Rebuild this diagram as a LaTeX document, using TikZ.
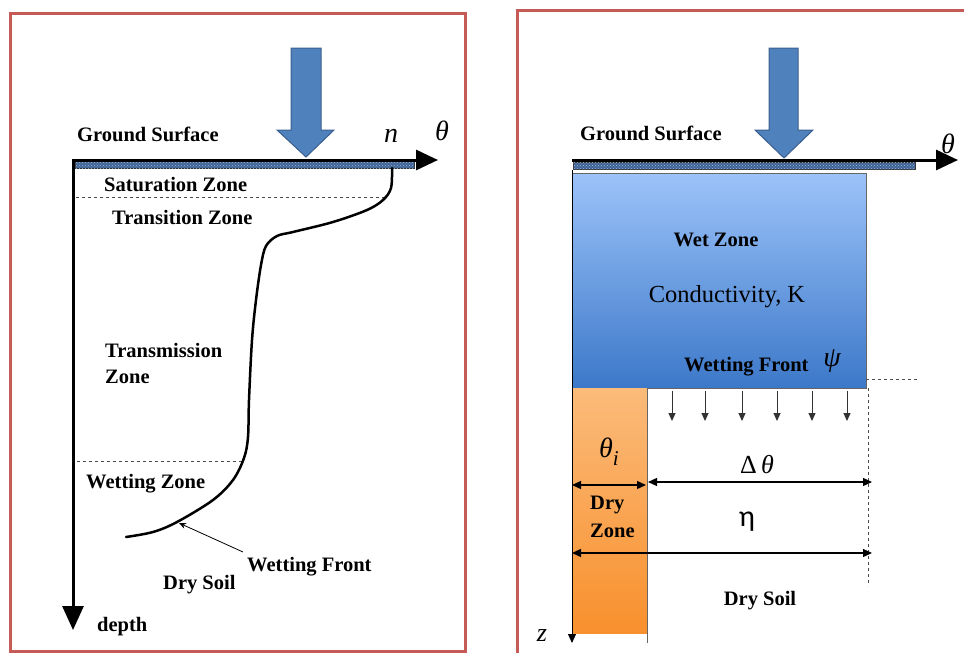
\documentclass[tikz,border=0pt]{standalone}
\usepackage{fontspec}
\setmainfont{Liberation Serif}
\newfontfamily\etafont{Carlito}
\usetikzlibrary{arrows.meta,patterns}
\definecolor{frame}{HTML}{C55A57}
\definecolor{arrfill}{HTML}{4F81BD}
\definecolor{arrdraw}{HTML}{3A5F8E}
\definecolor{strip}{HTML}{3F6496}
\definecolor{stripdot}{HTML}{9DB8DC}
\definecolor{wettop}{HTML}{9CC3F9}
\definecolor{wetbot}{HTML}{3C78C9}
\definecolor{drytop}{HTML}{FBBB7A}
\definecolor{drybot}{HTML}{F8902D}
\tikzset{
  lbl/.style={font=\fontsize{20.5}{23}\selectfont\bfseries, inner sep=0pt},
  mth/.style={font=\fontsize{28}{30}\selectfont\itshape, inner sep=0pt},
  framebox/.style={draw=frame, line width=3pt},
  bigarrow/.style={fill=arrfill, draw=arrdraw, line width=1pt},
  axis/.style={line width=3pt, -{Triangle[length=22pt,width=20pt]}},
  hatchstrip/.style={fill=strip, draw=black!80, line width=0.6pt, postaction={pattern=crosshatch dots, pattern color=stripdot}},
  dimarrow/.style={line width=1.3pt, {Triangle[length=9pt,width=8pt]}-{Triangle[length=9pt,width=8pt]}},
  droparrow/.style={line width=1pt, draw=black!80, -{Triangle[length=8pt,width=7pt]}},
  guide/.style={dashed, line width=0.8pt, draw=black!70}
}
\begin{document}
\begin{tikzpicture}[x=1pt,y={(0pt,-1pt)}]
\useasboundingbox (0,0) rectangle (964,653);
% ---------- left panel ----------
\draw[framebox] (10,13) rectangle (465,651);
\draw[bigarrow] (291,48) -- (321,48) -- (321,130) -- (334,130) -- (306,157) -- (277,130) -- (291,130) -- cycle;
\coordinate (LO) at (73,160);
\coordinate (LX) at (438,160);
\coordinate (LD) at (73,630);
\fill[hatchstrip] (75,161) rectangle (414,168);
\draw[axis] (LO) -- (LX);
\draw[line width=3pt, -{Triangle[length=24pt,width=21pt]}] (73,158.5) -- (LD);
\node[lbl, anchor=west] (gs1) at (77,134) {Ground Surface};
\node[mth] (n1) at (391,136) {n};
\node[mth] (th1) at (442,131) {θ};
\node[lbl, anchor=west] (sat) at (104,185) {Saturation Zone};
\node[lbl, anchor=west] (tra) at (112,217) {Transition Zone};
\node[lbl, anchor=west] (tm1) at (105,350) {Transmission};
\node[lbl, anchor=west] (tm2) at (105,377) {Zone};
\node[lbl, anchor=west] (wz) at (86,484) {Wetting Zone};
\node[lbl, anchor=west] (wf1) at (247,567) {Wetting Front};
\node[lbl, anchor=west] (ds1) at (163,585) {Dry Soil};
\node[lbl, anchor=west] (dep) at (97,627) {depth};
\coordinate (d1a) at (76,197); \coordinate (d1b) at (386,197);
\coordinate (d2a) at (77,461); \coordinate (d2b) at (242,461);
\draw[guide] (d1a) -- (d1b);
\draw[guide] (d2a) -- (d2b);
\draw[line width=2.5pt, line cap=round] plot[smooth, tension=0.55] coordinates {
 (392,168) (391,188) (383,200) (367,210) (333,222) (293,232) (277,236) (266,246)
 (261,265) (256,300) (252,340) (249,400) (248,437) (244,458) (233,480)
 (213,500) (177,522) (153,532) (126,537)};
\coordinate (wftip) at (179,523);
\coordinate (wftail) at (243,552);
\draw[line width=0.8pt, -{Stealth[length=7pt,width=6pt]}] (wftail) -- (wftip);
% ---------- right panel ----------
\draw[framebox] (517,660) -- (517,10) -- (970,10);
\draw[bigarrow] (769,48) -- (798,48) -- (798,130) -- (813,130) -- (784,158) -- (755,130) -- (769,130) -- cycle;
\node[lbl, anchor=west] (gs2) at (580,133) {Ground Surface};
\shade[top color=wettop, bottom color=wetbot] (572,173) rectangle (866,388);
\draw[line width=0.8pt, draw=black!60] (572,173) rectangle (866,388);
\shade[top color=drytop, bottom color=drybot] (572,388) rectangle (647,633);
\draw[line width=0.8pt, draw=black!60] (647,388) -- (647,643);
\fill[hatchstrip] (573,162) rectangle (915,169);
\coordinate (RO) at (572,160);
\coordinate (RX) at (958,160);
\draw[axis] (RO) -- (RX);
\coordinate (RZ) at (572,643);
\draw[line width=1pt, -{Triangle[length=9pt,width=8pt]}] (572,170) -- (RZ);
\node[mth] (th2) at (948,144) {θ};
\node[lbl, anchor=center] (wetz) at (716,240) {Wet Zone};
\node[font=\fontsize{24.5}{27}\selectfont, inner sep=0pt] (cond) at (727,297) {Conductivity, K};
\node[lbl, anchor=west] (wf2) at (684,367) {Wetting Front};
\node[mth] (psi) at (832,361) {ψ};
\coordinate (g1a) at (866,379); \coordinate (g1b) at (918,379);
\draw[guide] (g1a) -- (g1b);
\coordinate (g2a) at (868,388); \coordinate (g2b) at (868,586);
\draw[guide] (g2a) -- (g2b);
\foreach \xx [count=\i] in {672,705,742,777,812,847} {
  \coordinate (ta\i) at (\xx,391);
  \coordinate (tb\i) at (\xx,421);
  \draw[droparrow] (ta\i) -- (tb\i);
}
\node[mth] (thi) at (609,452) {θ\raisebox{-8pt}{\fontsize{21}{23}\selectfont i}};
\coordinate (a1) at (572,485); \coordinate (a2) at (646,485);
\draw[dimarrow] (a1) -- (a2);
\coordinate (b1) at (648,482); \coordinate (b2) at (872,482);
\draw[dimarrow] (b1) -- (b2);
\node[font=\fontsize{26}{28}\selectfont, inner sep=0pt] (dth) at (757,465) {Δ\,\textit{θ}};
\node[lbl, anchor=west] (dry) at (590,505) {Dry};
\node[lbl, anchor=west] (zone) at (590,531) {Zone};
\node[font=\etafont\fontsize{30}{32}\selectfont, inner sep=0pt] (eta) at (747,522) {η};
\coordinate (c1) at (572,553); \coordinate (c2) at (872,553);
\draw[dimarrow] (c1) -- (c2);
\node[lbl] (ds2) at (760,601) {Dry Soil};
\node[font=\fontsize{26}{28}\selectfont\itshape, inner sep=0pt] (zl) at (542,636) {z};
\end{tikzpicture}
\end{document}
